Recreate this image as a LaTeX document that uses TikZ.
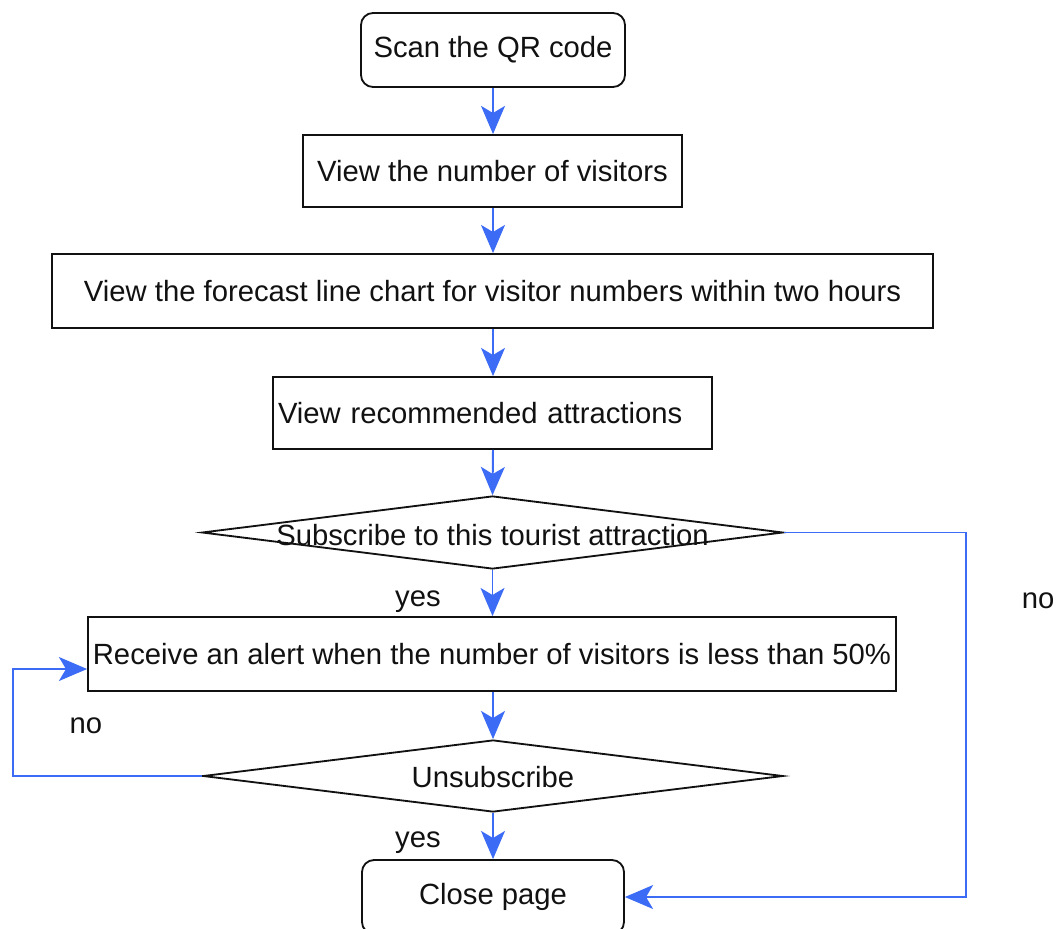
\documentclass[tikz,border=0pt]{standalone}
\usepackage{fontspec}
\setmainfont{Liberation Sans}
\usetikzlibrary{arrows.meta,shapes.geometric,calc}
\newdimen\px
\px=0.025cm
\definecolor{flowblue}{RGB}{60,108,245}
\definecolor{inkc}{RGB}{17,17,17}
\tikzset{
  every node/.style={font=\fontsize{20.8pt}{25pt}\selectfont, text=inkc},
  boxc/.style={draw=inkc, line width=1.3pt, rectangle, inner sep=0pt},
  rboxc/.style={boxc, rounded corners=0.3cm},
  decis/.style={draw=inkc, line width=1.3pt, diamond, inner sep=0pt},
  arr/.style={draw=flowblue, line width=1.4pt,
    -{Stealth[length=20pt,width=17pt,inset=5pt]}},
  lbl/.style={inner sep=0pt}
}
\begin{document}
\begin{tikzpicture}[x=0.025cm,y=-0.025cm]
\clip (0,0) rectangle (1062,928);
\fill[white] (0,0) rectangle (1062,928);

\node[rboxc, minimum width=264*\px, minimum height=74*\px] (scan) at (493,50) {Scan the QR code};
\node[boxc, minimum width=379*\px, minimum height=72*\px] (visit) at (492.5,171) {View the number of visitors};
\node[boxc, minimum width=881*\px, minimum height=74*\px] (fore) at (492.5,291) {View the forecast line chart for visitor numbers within two hours};
\node[boxc, text width=429*\px, inner xsep=5*\px, align=left, minimum height=72*\px] (reco) at (492.5,413) {View recommended attractions};
\node[decis, minimum width=581*\px, minimum height=73*\px] (sub) at (492.5,532.5) {};
\node[lbl] (subt) at (492.5,535) {Subscribe to this tourist attraction};
\node[boxc, minimum width=808*\px, minimum height=74*\px] (alert) at (492,654) {Receive an alert when the number of visitors is less than 50\%};
\node[decis, minimum width=580*\px, minimum height=72*\px] (unsub) at (493,776) {};
\node[lbl] (unsubt) at (493,777) {Unsubscribe};
\node[rboxc, minimum width=262*\px, minimum height=74*\px] (close) at (493,897) {Close page};

\node[lbl] (yes1) at (418,602) {yes};
\node[lbl] (yes2) at (418,843) {yes};
\node[lbl] (no1) at (1038,601) {no};
\node[lbl] (no2) at (86,726) {no};

\coordinate (rc) at (966,532.5);
\coordinate (lc) at (13,669);

\draw[arr] (scan.south) -- (visit.north -| scan.south);
\draw[arr] (visit.south -| scan.south) -- (fore.north -| scan.south);
\draw[arr] (fore.south -| scan.south) -- (reco.north -| scan.south);
\draw[arr] (reco.south -| scan.south) -- (sub.north);
\draw[arr] (sub.south) -- (alert.north -| sub.south);
\draw[arr] (alert.south -| unsub.north) -- (unsub.north);
\draw[arr] (unsub.south) -- (close.north -| unsub.south);
\draw[arr] (sub.east) -- (rc) |- (close.east);
\draw[arr] (unsub.west) -| (lc) -- (alert.west |- lc);
\end{tikzpicture}
\end{document}
